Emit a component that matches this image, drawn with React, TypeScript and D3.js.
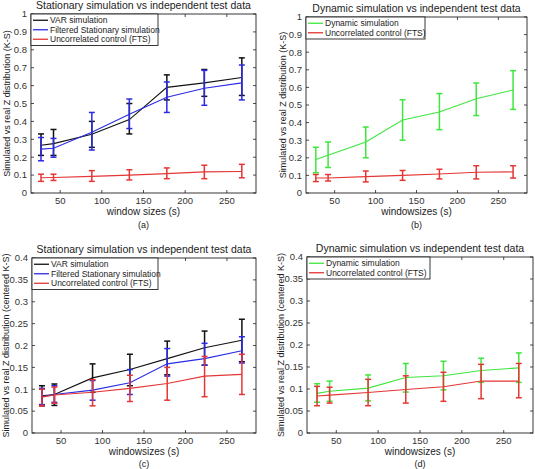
import React from 'react';
import * as d3 from 'd3';

// ---------- data ----------
const windowSizes = [27, 42, 88, 133, 178, 223, 268];
const xTickValues = [50, 100, 150, 200, 250];
const yTicksKS = [0, 0.1, 0.2, 0.3, 0.4, 0.5, 0.6, 0.7, 0.8, 0.9, 1];
const yTickLabelsKS = ['0', '0.1', '0.2', '0.3', '0.4', '0.5', '0.6', '0.7', '0.8', '0.9', '1'];
const yTicksCentered = [0, 0.05, 0.1, 0.15, 0.2, 0.25, 0.3, 0.35, 0.4];
const yTickLabelsCentered = ['0', '0.05', '0.1', '0.15', '0.2', '0.25', '0.3', '0.35', '0.4'];

// (a) Stationary, K-S
const aVarMean = [0.267, 0.276, 0.328, 0.41, 0.59, 0.615, 0.645];
const aVarLow = [0.21, 0.21, 0.255, 0.33, 0.52, 0.54, 0.545];
const aVarHigh = [0.33, 0.355, 0.4, 0.5, 0.66, 0.69, 0.755];
const aFiltMean = [0.245, 0.25, 0.34, 0.44, 0.535, 0.585, 0.615];
const aFiltLow = [0.18, 0.2, 0.24, 0.36, 0.45, 0.49, 0.52];
const aFiltHigh = [0.31, 0.305, 0.45, 0.525, 0.62, 0.685, 0.715];
const aCtrlMean = [0.085, 0.087, 0.093, 0.1, 0.108, 0.118, 0.12];
const aCtrlLow = [0.065, 0.07, 0.065, 0.073, 0.08, 0.08, 0.085];
const aCtrlHigh = [0.105, 0.105, 0.125, 0.13, 0.14, 0.155, 0.16];

// (b) Dynamic, K-S
const bDynMean = [0.19, 0.215, 0.29, 0.415, 0.46, 0.535, 0.585];
const bDynLow = [0.115, 0.145, 0.2, 0.3, 0.36, 0.44, 0.475];
const bDynHigh = [0.26, 0.29, 0.375, 0.53, 0.565, 0.625, 0.695];
const bCtrlMean = [0.085, 0.085, 0.093, 0.1, 0.108, 0.118, 0.12];
const bCtrlLow = [0.065, 0.068, 0.063, 0.072, 0.08, 0.08, 0.085];
const bCtrlHigh = [0.105, 0.105, 0.125, 0.128, 0.135, 0.155, 0.155];

// (c) Stationary, centered K-S
const cVarMean = [0.085, 0.088, 0.126, 0.145, 0.17, 0.195, 0.212];
const cVarLow = [0.062, 0.063, 0.093, 0.108, 0.133, 0.155, 0.163];
const cVarHigh = [0.108, 0.112, 0.158, 0.18, 0.21, 0.233, 0.26];
const cFiltMean = [0.083, 0.088, 0.098, 0.115, 0.158, 0.17, 0.188];
const cFiltLow = [0.065, 0.07, 0.075, 0.088, 0.13, 0.155, 0.16];
const cFiltHigh = [0.102, 0.108, 0.12, 0.145, 0.193, 0.205, 0.22];
const cCtrlMean = [0.082, 0.087, 0.093, 0.102, 0.113, 0.13, 0.134];
const cCtrlLow = [0.062, 0.068, 0.062, 0.072, 0.075, 0.083, 0.088];
const cCtrlHigh = [0.1, 0.105, 0.122, 0.132, 0.15, 0.175, 0.18];

// (d) Dynamic, centered K-S
const dDynMean = [0.09, 0.095, 0.102, 0.126, 0.13, 0.142, 0.148];
const dDynLow = [0.07, 0.072, 0.073, 0.093, 0.098, 0.115, 0.115];
const dDynHigh = [0.112, 0.118, 0.132, 0.158, 0.163, 0.17, 0.182];
const dCtrlMean = [0.084, 0.086, 0.092, 0.099, 0.105, 0.118, 0.118];
const dCtrlLow = [0.062, 0.068, 0.062, 0.068, 0.072, 0.078, 0.08];
const dCtrlHigh = [0.106, 0.104, 0.122, 0.13, 0.138, 0.156, 0.158];

const seriesNames = ['VAR simulation', 'Filtered Stationary simulation', 'Uncorrelated control (FTS)', 'Dynamic simulation'];

// ---------- styles ----------
const BLACK = '#111111';
const BLUE = '#2b2be6';
const RED = '#e53535';
const GREEN = '#3ee63e';
const FONT = '"Liberation Sans", Arial, sans-serif';

type Series = { name: string; color: string; mean: number[]; low: number[]; high: number[] };

type PanelProps = {
  left: number; right: number; top: number; bottom: number;
  yMax: number; yTicks: number[]; yTickLabels: string[];
  title: string; ylabel: string; xlabel: string; sublabel: string;
  series: Series[];
  legendW: number; legendRowH: number;
  ylabelX: number; xlabelDy: number; subDy: number;
};

function Panel(p: PanelProps) {
  const x = d3.scaleLinear().domain([15, 285]).range([p.left, p.right]);
  const y = d3.scaleLinear().domain([0, p.yMax]).range([p.bottom, p.top]);
  const line = d3.line<number>().x((_, i) => x(windowSizes[i])).y(d => y(d));
  const cx = (p.left + p.right) / 2;
  const cy = (p.top + p.bottom) / 2;
  const tk = 3;
  const cap = 3;
  const legendH = p.series.length * p.legendRowH + 3;
  return (
    <g fontFamily={FONT}>
      <rect x={p.left} y={p.top} width={p.right - p.left} height={p.bottom - p.top} fill="white" />
      {p.series.map((s, si) => (
        <g key={si}>
          <path d={line(s.mean) || ''} fill="none" stroke={s.color} strokeWidth={1.1} />
          {s.mean.map((_, i) => {
            const xx = x(windowSizes[i]);
            const y1 = y(s.low[i]);
            const y2 = y(s.high[i]);
            return (
              <g key={i} stroke={s.color} strokeWidth={1.5}>
                <line x1={xx} x2={xx} y1={y1} y2={y2} />
                <line x1={xx - cap} x2={xx + cap} y1={y1} y2={y1} />
                <line x1={xx - cap} x2={xx + cap} y1={y2} y2={y2} />
              </g>
            );
          })}
        </g>
      ))}
      <rect x={p.left} y={p.top} width={p.right - p.left} height={p.bottom - p.top} fill="none" stroke="#222" strokeWidth={0.9} />
      {p.yTicks.map((t, i) => (
        <g key={'y' + i}>
          <line x1={p.left} x2={p.left + tk} y1={y(t)} y2={y(t)} stroke="#222" strokeWidth={0.8} />
          <line x1={p.right} x2={p.right - tk} y1={y(t)} y2={y(t)} stroke="#222" strokeWidth={0.8} />
          <text x={p.left - 4} y={y(t)} dy="0.35em" textAnchor="end" fontSize={9.5} fill="#333">{p.yTickLabels[i]}</text>
        </g>
      ))}
      {xTickValues.map((t, i) => (
        <g key={'x' + i}>
          <line x1={x(t)} x2={x(t)} y1={p.bottom} y2={p.bottom - tk} stroke="#222" strokeWidth={0.8} />
          <line x1={x(t)} x2={x(t)} y1={p.top} y2={p.top + tk} stroke="#222" strokeWidth={0.8} />
          <text x={x(t)} y={p.bottom + 10.5} textAnchor="middle" fontSize={9.5} fill="#333">{t}</text>
        </g>
      ))}
      <rect x={p.left} y={p.top} width={p.legendW} height={legendH} fill="white" stroke="#222" strokeWidth={0.9} />
      {p.series.map((s, si) => {
        const ly = p.top + 1.5 + p.legendRowH * (si + 0.5);
        return (
          <g key={'l' + si}>
            <line x1={p.left + 2} x2={p.left + 17} y1={ly} y2={ly} stroke={s.color} strokeWidth={1.3} />
            <text x={p.left + 19} y={ly} dy="0.35em" fontSize={8.5} fill="#222">{s.name}</text>
          </g>
        );
      })}
      <text x={cx} y={p.top - 5} textAnchor="middle" fontSize={10.5} fill="#222">{p.title}</text>
      <text transform={`translate(${p.ylabelX},${cy}) rotate(-90)`} dy="0.35em" textAnchor="middle" fontSize={9} fill="#222">{p.ylabel}</text>
      <text x={cx} y={p.bottom + p.xlabelDy} textAnchor="middle" fontSize={10} fill="#222">{p.xlabel}</text>
      <text x={cx} y={p.bottom + p.subDy} textAnchor="middle" fontSize={9} fill="#222">{p.sublabel}</text>
    </g>
  );
}

export default function App() {
  const ks = 'Simulated vs real Z distribution (K-S)';
  const cks = 'Simulated vs real Z distribution (centered K-S)';
  return (
    <div style={{ position: 'absolute', left: 0, top: 0 }}>
      <svg width={535} height={469} style={{ display: 'block', background: 'white' }}>
        <Panel left={31} right={256} top={14} bottom={193} yMax={1} yTicks={yTicksKS} yTickLabels={yTickLabelsKS}
          title="Stationary simulation vs independent test data" ylabel={ks} xlabel="window sizes (s)" sublabel="(a)"
          legendW={127} legendRowH={9.5} ylabelX={7} xlabelDy={21.5} subDy={35}
          series={[
            { name: seriesNames[0], color: BLACK, mean: aVarMean, low: aVarLow, high: aVarHigh },
            { name: seriesNames[1], color: BLUE, mean: aFiltMean, low: aFiltLow, high: aFiltHigh },
            { name: seriesNames[2], color: RED, mean: aCtrlMean, low: aCtrlLow, high: aCtrlHigh },
          ]} />
        <Panel left={306} right={527} top={17} bottom={193} yMax={1} yTicks={yTicksKS} yTickLabels={yTickLabelsKS}
          title="Dynamic simulation vs independent test data" ylabel={ks} xlabel="windowsizes (s)" sublabel="(b)"
          legendW={119} legendRowH={9.5} ylabelX={283} xlabelDy={21.5} subDy={35}
          series={[
            { name: seriesNames[3], color: GREEN, mean: bDynMean, low: bDynLow, high: bDynHigh },
            { name: seriesNames[2], color: RED, mean: bCtrlMean, low: bCtrlLow, high: bCtrlHigh },
          ]} />
        <Panel left={32} right={256} top={258} bottom={433} yMax={0.4} yTicks={yTicksCentered} yTickLabels={yTickLabelsCentered}
          title="Stationary simulation vs independent test data" ylabel={cks} xlabel="windowsizes (s)" sublabel="(c)"
          legendW={126} legendRowH={9.5} ylabelX={6} xlabelDy={21.5} subDy={33.5}
          series={[
            { name: seriesNames[0], color: BLACK, mean: cVarMean, low: cVarLow, high: cVarHigh },
            { name: seriesNames[1], color: BLUE, mean: cFiltMean, low: cFiltLow, high: cFiltHigh },
            { name: seriesNames[2], color: RED, mean: cCtrlMean, low: cCtrlLow, high: cCtrlHigh },
          ]} />
        <Panel left={307} right={533} top={257} bottom={433} yMax={0.4} yTicks={yTicksCentered} yTickLabels={yTickLabelsCentered}
          title="Dynamic simulation vs independent test data" ylabel={cks} xlabel="windowsizes (s)" sublabel="(d)"
          legendW={123} legendRowH={9.5} ylabelX={281} xlabelDy={21.5} subDy={33.5}
          series={[
            { name: seriesNames[3], color: GREEN, mean: dDynMean, low: dDynLow, high: dDynHigh },
            { name: seriesNames[2], color: RED, mean: dCtrlMean, low: dCtrlLow, high: dCtrlHigh },
          ]} />
      </svg>
    </div>
  );
}
